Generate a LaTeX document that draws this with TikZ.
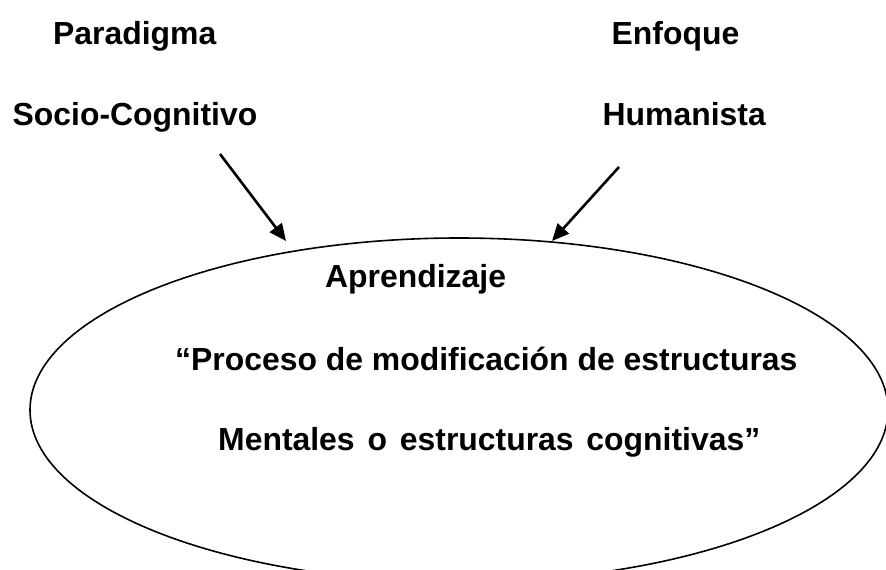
\documentclass[tikz,border=0pt]{standalone}
\usepackage{fontspec}
\setmainfont{Liberation Sans}
\usetikzlibrary{arrows.meta,shapes.geometric}
\tikzset{
  lbl/.style={anchor=base west,inner sep=0pt,font=\fontsize{31.9}{36}\selectfont\bfseries},
  arr/.style={line width=2.6pt,-{Triangle[length=17pt,width=15pt]}},
  oval/.style={ellipse,draw,line width=1.6pt,minimum width=858pt,minimum height=344pt,inner sep=0pt}
}
\begin{document}
\begin{tikzpicture}[x=1pt,y=-1pt]
\useasboundingbox (0,0) rectangle (886,570);
\clip (0,0) rectangle (886,570);
\node[oval] (ell) at (459,410) {};
\node[lbl] (parad) at (53,44) {Paradigma};
\node[lbl] (socio) at (12.5,125) {Socio-Cognitivo};
\node[lbl] (enf) at (611.5,44) {Enfoque};
\node[lbl] (hum) at (602.5,125) {Humanista};
\node[lbl] (apr) at (325,287) {Aprendizaje};
\node[lbl] (proc) at (175,370) {“Proceso de modificación de estructuras};
\node[lbl] (ment) at (218,450) {Mentales\hspace{4pt} o\hspace{4pt} estructuras\hspace{4pt} cognitivas”};
\coordinate (a1s) at (220,154);
\coordinate (a1e) at (286,241);
\coordinate (a2s) at (619,167);
\coordinate (a2e) at (552,241);
\draw[arr] (a1s) -- (a1e);
\draw[arr] (a2s) -- (a2e);
\end{tikzpicture}
\end{document}
